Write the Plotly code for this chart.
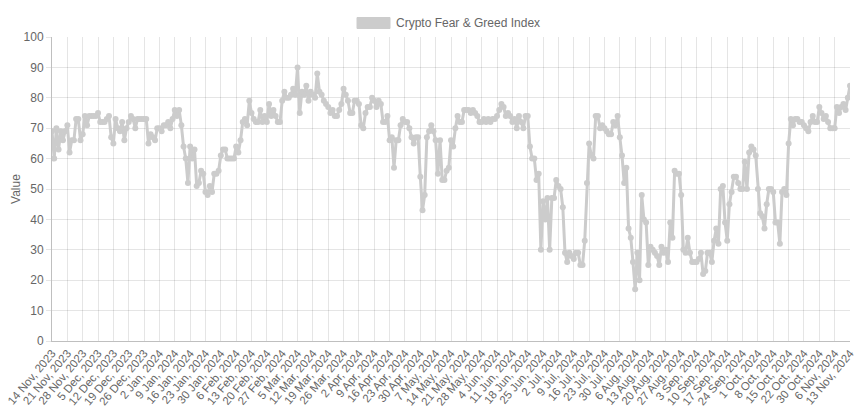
import pandas as pd
import plotly.graph_objects as go

# ---- data ----
start_date = "2023-11-14"
end_date = "2024-11-13"
missing_dates = ["2024-10-27"]

values = [
    69, 60, 70, 63, 69, 66, 69, 71, 62, 66,
    66, 73, 73, 66, 68, 74, 71, 74, 74, 74,
    74, 75, 72, 72, 72, 73, 74, 67, 65, 73,
    70, 69, 72, 66, 70, 72, 74, 73, 70, 73,
    73, 73, 73, 73, 65, 68, 67, 66, 70, 70,
    69, 71, 71, 72, 70, 73, 76, 74, 76, 71,
    64, 60, 52, 64, 60, 63, 51, 52, 56, 55,
    49, 48, 51, 49, 55, 55, 56, 61, 63, 63,
    60, 60, 60, 60, 64, 62, 66, 72, 73, 71,
    79, 75, 73, 72, 72, 76, 72, 74, 72, 78,
    74, 76, 74, 72, 72, 79, 82, 80, 80, 81,
    83, 81, 90, 75, 82, 81, 84, 79, 82, 81,
    80, 88, 82, 81, 79, 78, 77, 75, 76, 74,
    74, 76, 78, 83, 81, 79, 75, 75, 79, 79,
    78, 71, 70, 75, 77, 77, 80, 79, 77, 79,
    78, 72, 72, 74, 66, 67, 57, 66, 66, 71,
    73, 72, 72, 70, 67, 65, 67, 67, 54, 43,
    48, 67, 69, 71, 69, 66, 55, 66, 53, 53,
    56, 57, 66, 64, 70, 74, 72, 72, 76, 76,
    76, 75, 76, 75, 74, 72, 72, 73, 72, 73,
    72, 73, 73, 74, 76, 78, 77, 74, 75, 74,
    72, 73, 70, 74, 72, 70, 74, 74, 64, 60,
    60, 53, 55, 30, 46, 40, 47, 30, 47, 47,
    53, 51, 50, 44, 29, 26, 29, 28, 27, 29,
    29, 25, 25, 33, 52, 65, 61, 60, 74, 74,
    70, 71, 70, 69, 68, 68, 72, 71, 74, 67,
    61, 52, 57, 37, 34, 26, 17, 29, 20, 48,
    40, 39, 25, 31, 30, 29, 28, 25, 31, 29,
    30, 26, 39, 34, 56, 55, 55, 48, 30, 29,
    34, 29, 26, 26, 26, 27, 29, 22, 23, 29,
    29, 26, 33, 37, 32, 50, 51, 39, 33, 45,
    49, 54, 54, 52, 50, 50, 59, 50, 62, 64,
    63, 61, 50, 42, 41, 37, 45, 50, 50, 49,
    39, 39, 32, 49, 50, 48, 65, 73, 71, 73,
    73, 72, 72, 71, 70, 69, 72, 74, 72, 72,
    77, 75, 73, 74, 72, 70, 70, 70, 77, 75,
    77, 78, 76, 80, 84,
]

series_name = "Crypto Fear & Greed Index"
y_title = "Value"
y_ticks = [0, 10, 20, 30, 40, 50, 60, 70, 80, 90, 100]

dates = [d for d in pd.date_range(start_date, end_date, freq="D")
         if d.strftime("%Y-%m-%d") not in missing_dates]
labels = [f"{d.day} {d.strftime('%b')}, {d.year}" for d in dates]
labels = labels[:len(values)]
tick_labels = labels[::7]

GRAY = "rgb(204,204,204)"
TXT = "#666666"
FONT = "Liberation Sans, Arial, sans-serif"

L, R, T, B = 52, 9, 37, 67
PW = 859 - L - R
PH = 408 - T - B

fig = go.Figure()
fig.add_trace(go.Scatter(
    x=labels, y=values, mode="lines+markers", name=series_name,
    line=dict(color=GRAY, width=3),
    marker=dict(color=GRAY, size=6),
    showlegend=False,
))

# legend (Chart.js style box + label)
fig.add_shape(type="rect", xref="paper", yref="paper",
              x0=(357 - L) / PW, x1=(390 - L) / PW,
              y0=(408 - B - 28.5) / PH, y1=(408 - B - 17.5) / PH,
              fillcolor=GRAY, line=dict(color=GRAY, width=1))
fig.add_annotation(xref="paper", yref="paper",
                   x=(394 - L) / PW, y=(408 - B - 23) / PH,
                   xanchor="left", yanchor="middle", showarrow=False,
                   text=series_name, font=dict(family=FONT, size=12, color=TXT))

fig.update_layout(
    width=859, height=408,
    margin=dict(l=L, r=R, t=T, b=B),
    paper_bgcolor="white", plot_bgcolor="white",
    font=dict(family=FONT, size=12, color=TXT),
    xaxis=dict(
        type="category", range=[0, len(values) - 1], automargin=False,
        tickmode="array", tickvals=tick_labels, ticktext=tick_labels,
        tickangle=-50, tickfont=dict(size=11.5, color=TXT),
        showgrid=True, gridcolor="rgba(0,0,0,0.1)", gridwidth=1,
        showline=True, linecolor="rgba(0,0,0,0.25)", linewidth=1,
        ticks="", zeroline=False,
    ),
    yaxis=dict(
        range=[0, 100], tickvals=y_ticks, automargin=False,
        tickfont=dict(size=12, color=TXT),
        title=dict(text=y_title, font=dict(size=12, color=TXT), standoff=0),
        showgrid=True, gridcolor="rgba(0,0,0,0.1)", gridwidth=1,
        showline=True, linecolor="rgba(0,0,0,0.25)", linewidth=1,
        ticks="outside", ticklen=5, tickcolor="rgba(0,0,0,0.1)",
        zeroline=False,
    ),
)

fig.write_html(
    "out.html",
    config={"displayModeBar": False},
    post_script="document.body.style.margin='0';document.body.style.padding='0';",
)
